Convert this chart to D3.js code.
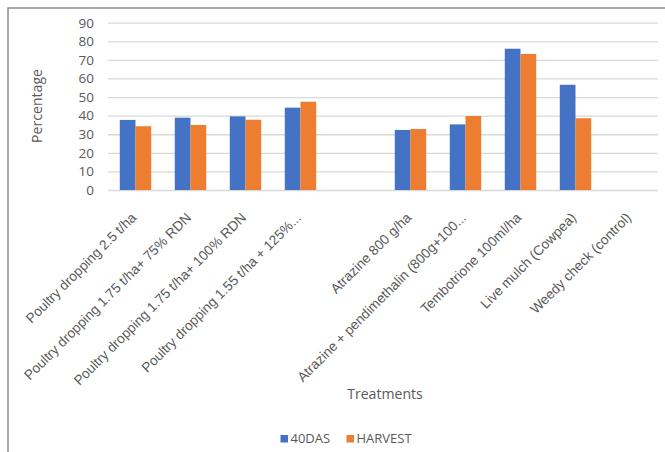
<!DOCTYPE html>
<html>
<head>
<meta charset="utf-8">
<script src="https://cdn.jsdelivr.net/npm/d3@7"></script>
<style>
  html, body { margin: 0; padding: 0; background: #fff; }
  svg { display: block; font-family: "Open Sans", "Noto Sans", sans-serif; }
</style>
</head>
<body>
<svg id="chart" width="665" height="452"></svg>
<script>
// Treatments (one blank slot separates the two groups)
const categories = [
  "Poultry dropping 2.5 t/ha",
  "Poultry dropping 1.75 t/ha+ 75% RDN",
  "Poultry dropping 1.75 t/ha+ 100% RDN",
  "Poultry dropping 1.55 t/ha + 125%...",
  "",
  "Atrazine 800 g/ha",
  "Atrazine + pendimethalin (800g+100...",
  "Tembotrione 100ml/ha",
  "Live mulch (Cowpea)",
  "Weedy check (control)"
];
const seriesNames = ["40DAS", "HARVEST"];
const das40   = [37.7, 38.9, 39.6, 44.3, null, 32.3, 35.3, 76.0, 56.6, 0];
const harvest = [34.3, 35.0, 37.8, 47.5, null, 32.8, 39.8, 73.2, 38.6, 0];
const yTicks = [0, 10, 20, 30, 40, 50, 60, 70, 80, 90];
const colors = ["#4472C4", "#ED7D31"];

const svg = d3.select("#chart");
const W = 665, H = 452;
const plot = { left: 108, right: 658, top: 22.7, bottom: 190 };

// Outer frame (left and top edges visible)
svg.append("path")
  .attr("d", `M8,${H} L8,8 L${W},8`)
  .attr("fill", "none")
  .attr("stroke", "#8c8c8c")
  .attr("stroke-width", 1.5);

const x0 = d3.scaleBand()
  .domain(d3.range(categories.length))
  .range([plot.left, plot.right])
  .paddingInner(1.5 / 3.5)
  .paddingOuter(0.75 / 3.5);

const x1 = d3.scaleBand()
  .domain(seriesNames)
  .range([0, x0.bandwidth()]);

const y = d3.scaleLinear().domain([0, 90]).range([plot.bottom, plot.top]);

// Gridlines and value axis
const yAxis = d3.axisLeft(y)
  .tickValues(yTicks)
  .tickSize(-(plot.right - plot.left))
  .tickPadding(14)
  .tickFormat(d3.format("d"));

const gy = svg.append("g")
  .attr("transform", `translate(${plot.left},0)`)
  .call(yAxis);
gy.select(".domain").remove();
gy.selectAll(".tick line").attr("stroke", "#d9d9d9").attr("stroke-width", 1.3);
gy.selectAll(".tick text")
  .attr("fill", "#595959")
  .attr("font-size", 13.5)
  .attr("font-family", "\"Open Sans\", sans-serif");

// Bars
const rows = categories.map((c, i) => ({ i, values: [das40[i], harvest[i]] }));
const groups = svg.append("g").selectAll("g")
  .data(rows)
  .join("g")
  .attr("transform", d => `translate(${x0(d.i)},0)`);

groups.selectAll("rect")
  .data(d => d.values.map((v, k) => ({ v, k })).filter(e => e.v !== null && e.v > 0))
  .join("rect")
  .attr("x", e => x1(seriesNames[e.k]))
  .attr("width", x1.bandwidth())
  .attr("y", e => y(e.v))
  .attr("height", e => y(0) - y(e.v))
  .attr("fill", e => colors[e.k]);

// Category axis labels, rotated
const xAxis = d3.axisBottom(x0)
  .tickSize(0)
  .tickFormat(i => categories[i]);
const gx = svg.append("g")
  .attr("transform", `translate(0,${plot.bottom})`)
  .call(xAxis);
gx.select(".domain").remove();
gx.selectAll(".tick text")
  .attr("fill", "#595959")
  .attr("font-size", 13.7)
  .attr("text-anchor", "end")
  .attr("dy", "0.35em")
  .attr("transform", "translate(-4,23) rotate(-45)");

// Axis titles
svg.append("text")
  .attr("transform", "translate(42,106) rotate(-90)")
  .attr("text-anchor", "middle")
  .attr("fill", "#595959")
  .attr("font-size", 14.1)
  .text("Percentage");

svg.append("text")
  .attr("x", 385)
  .attr("y", 399)
  .attr("text-anchor", "middle")
  .attr("fill", "#595959")
  .attr("font-size", 14.1)
  .text("Treatments");

// Legend
const legendItems = [
  { name: seriesNames[0], color: colors[0], x: 280.5 },
  { name: seriesNames[1], color: colors[1], x: 346.5 }
];
const lg = svg.append("g").selectAll("g")
  .data(legendItems)
  .join("g")
  .attr("transform", d => `translate(${d.x},435)`);
lg.append("rect").attr("width", 7.5).attr("height", 7.5).attr("fill", d => d.color);
lg.append("text")
  .attr("x", 10)
  .attr("y", 8.4)
  .attr("fill", "#595959")
  .attr("font-size", 13)
  .text(d => d.name);
</script>
</body>
</html>
